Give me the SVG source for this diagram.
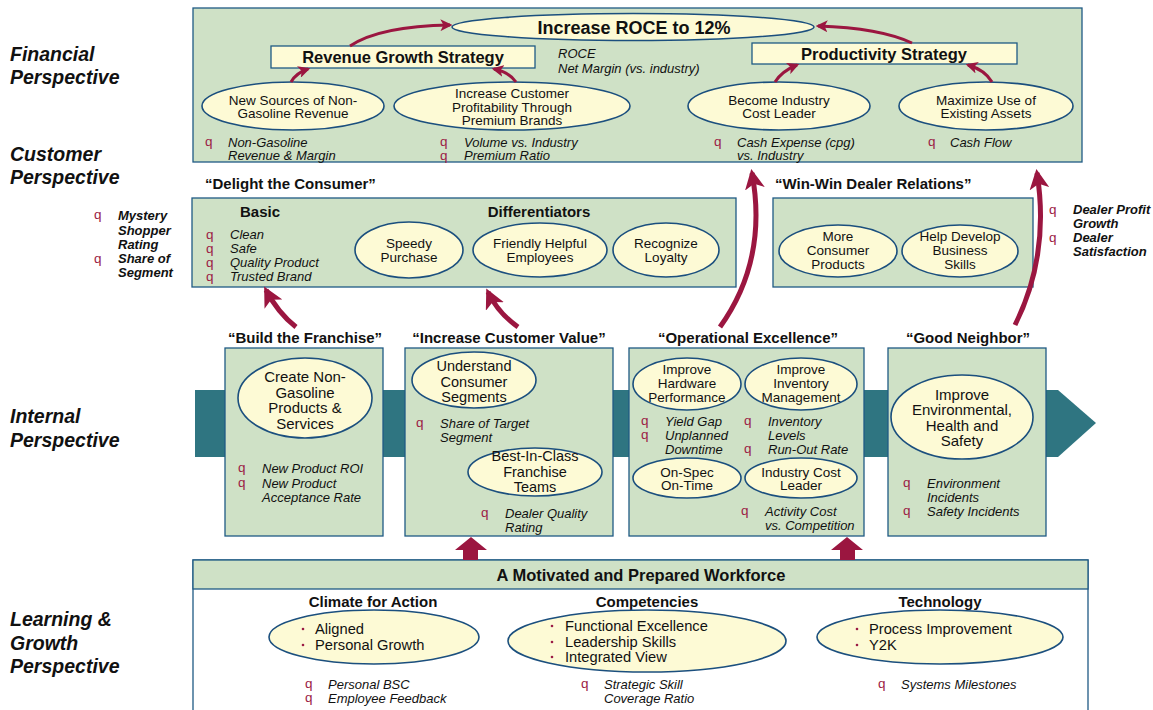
<svg xmlns="http://www.w3.org/2000/svg" width="1153" height="710" viewBox="0 0 1153 710">
<style>
text{font-family:"Liberation Sans",Arial,sans-serif;fill:#111}
.box{fill:#cfe1c6;stroke:#1f5a84;stroke-width:1.3}
.ell{fill:#fdfad5;stroke:#1b4f7e;stroke-width:1.6}
.persp{font-size:19.5px;font-weight:bold;font-style:italic}
.q{fill:#9b1b45;font-size:13.5px}
.m{font-size:13px;font-style:italic}
.mb{font-size:13px;font-style:italic;font-weight:bold}
.et{font-size:13.5px;text-anchor:middle}
.et2{font-size:15px;text-anchor:middle}
.et3{font-size:14.5px;text-anchor:middle}
.hd{font-size:15px;font-weight:bold;text-anchor:middle}
.sh{font-size:15px;font-weight:bold;text-anchor:middle}
.arr{fill:none;stroke:#9b1640;marker-end:url(#ah)}
.blk{fill:#9b1640}
.dot{fill:#9b1b45}
.bt{font-size:14.7px}
</style>
<defs>
<marker id="ah" viewBox="0 0 10 10" refX="8" refY="5" markerWidth="4" markerHeight="4" orient="auto" markerUnits="strokeWidth">
<path d="M0,0 L10,5 L0,10 L2.5,5 z" fill="#9b1640"/>
</marker>
</defs>
<rect width="1153" height="710" fill="#fff"/>

<g id="perspective-labels">
<text class="persp" x="10" y="61">Financial</text>
<text class="persp" x="10" y="84">Perspective</text>
<text class="persp" x="10" y="161">Customer</text>
<text class="persp" x="10" y="184">Perspective</text>
<text class="persp" x="10" y="423">Internal</text>
<text class="persp" x="10" y="447">Perspective</text>
<text class="persp" x="10" y="626">Learning &amp;</text>
<text class="persp" x="10" y="650">Growth</text>
<text class="persp" x="10" y="673">Perspective</text>
</g>

<g id="financial">
<rect class="box" x="193" y="8" width="889" height="154"/>
<g id="roce">
<ellipse class="ell" cx="633" cy="27" rx="181" ry="13.5"/>
<text x="634" y="33.5" style="font-size:18px;font-weight:bold;text-anchor:middle">Increase ROCE to 12%</text>
</g>
<g id="revenue-growth">
<rect x="271" y="46" width="264" height="22" fill="#fefbd6" stroke="#1f5a84" stroke-width="1.3"/>
<text x="403" y="63" style="font-size:16.5px;font-weight:bold;text-anchor:middle">Revenue Growth Strategy</text>
</g>
<g id="productivity">
<rect x="752" y="43" width="265" height="21" fill="#fefbd6" stroke="#1f5a84" stroke-width="1.3"/>
<text x="884" y="59.5" style="font-size:16.5px;font-weight:bold;text-anchor:middle">Productivity Strategy</text>
</g>
<text class="m" x="558" y="58">ROCE</text>
<text class="m" x="558" y="73">Net Margin (vs. industry)</text>
<g id="new-sources">
<ellipse class="ell" cx="293" cy="106" rx="91" ry="24"/>
<text class="et" x="293" y="104.5">New Sources of Non-</text>
<text class="et" x="293" y="118">Gasoline Revenue</text>
</g>
<g id="premium-brands">
<ellipse class="ell" cx="512" cy="106" rx="118" ry="24"/>
<text class="et" x="512" y="97.5">Increase Customer</text>
<text class="et" x="512" y="111.5">Profitability Through</text>
<text class="et" x="512" y="125">Premium Brands</text>
</g>
<g id="cost-leader">
<ellipse class="ell" cx="779" cy="106" rx="91" ry="24"/>
<text class="et" x="779" y="104.5">Become Industry</text>
<text class="et" x="779" y="118">Cost Leader</text>
</g>
<g id="existing-assets">
<ellipse class="ell" cx="986" cy="106" rx="87" ry="24"/>
<text class="et" x="986" y="104.5">Maximize Use of</text>
<text class="et" x="986" y="118">Existing Assets</text>
</g>
<text class="q" x="205" y="146">q</text>
<text class="m" x="228" y="146.5">Non-Gasoline</text>
<text class="m" x="228" y="160">Revenue &amp; Margin</text>
<text class="q" x="440" y="146">q</text>
<text class="q" x="440" y="160">q</text>
<text class="m" x="464" y="146.5">Volume vs. Industry</text>
<text class="m" x="464" y="160">Premium Ratio</text>
<text class="q" x="714" y="146">q</text>
<text class="m" x="737" y="146.5">Cash Expense (cpg)</text>
<text class="m" x="737" y="160">vs. Industry</text>
<text class="q" x="928" y="146">q</text>
<text class="m" x="950" y="146.5">Cash Flow</text>
</g>

<g id="customer-labels">
<text x="205" y="188.5" style="font-size:15px;font-weight:bold">“Delight the Consumer”</text>
<text x="775" y="188.5" style="font-size:15px;font-weight:bold">“Win-Win Dealer Relations”</text>
<text class="q" x="94" y="219">q</text>
<text class="q" x="94" y="263">q</text>
<text class="mb" x="118" y="220">Mystery</text>
<text class="mb" x="118" y="235">Shopper</text>
<text class="mb" x="118" y="249">Rating</text>
<text class="mb" x="118" y="263">Share of</text>
<text class="mb" x="118" y="277">Segment</text>
<text class="q" x="1049" y="214">q</text>
<text class="q" x="1049" y="242">q</text>
<text class="mb" x="1073" y="214">Dealer Profit</text>
<text class="mb" x="1073" y="228">Growth</text>
<text class="mb" x="1073" y="242">Dealer</text>
<text class="mb" x="1073" y="256">Satisfaction</text>
</g>

<g id="consumer">
<rect class="box" x="192" y="198" width="544" height="89"/>
<text x="240" y="216.5" style="font-size:15px;font-weight:bold">Basic</text>
<text class="sh" x="539" y="216.5">Differentiators</text>
<text class="q" x="206" y="239">q</text>
<text class="q" x="206" y="253">q</text>
<text class="q" x="206" y="267">q</text>
<text class="q" x="206" y="281">q</text>
<text class="m" x="230" y="239">Clean</text>
<text class="m" x="230" y="253">Safe</text>
<text class="m" x="230" y="266.5">Quality Product</text>
<text class="m" x="230" y="281">Trusted Brand</text>
<g id="speedy">
<ellipse class="ell" cx="409" cy="250" rx="54" ry="28"/>
<text class="et" x="409" y="247.5">Speedy</text>
<text class="et" x="409" y="261.5">Purchase</text>
</g>
<g id="friendly">
<ellipse class="ell" cx="540" cy="250" rx="67" ry="27"/>
<text class="et" x="540" y="247.5">Friendly Helpful</text>
<text class="et" x="540" y="261.5">Employees</text>
</g>
<g id="loyalty">
<ellipse class="ell" cx="666" cy="250" rx="53" ry="27"/>
<text class="et" x="666" y="247.5">Recognize</text>
<text class="et" x="666" y="261.5">Loyalty</text>
</g>
</g>

<g id="dealer">
<rect class="box" x="773" y="198" width="260" height="89"/>
<g id="more-products">
<ellipse class="ell" cx="838" cy="251" rx="59" ry="26"/>
<text class="et" x="838" y="240.5">More</text>
<text class="et" x="838" y="254.5">Consumer</text>
<text class="et" x="838" y="268.5">Products</text>
</g>
<g id="business-skills">
<ellipse class="ell" cx="960" cy="251" rx="58" ry="26"/>
<text class="et" x="960" y="240.5">Help Develop</text>
<text class="et" x="960" y="254.5">Business</text>
<text class="et" x="960" y="268.5">Skills</text>
</g>
</g>

<g id="internal">
<polygon points="195,390 1058,390 1096,423 1058,457 195,457" fill="#2f7581"/>
<text class="hd" x="305" y="342.5">“Build the Franchise”</text>
<text class="hd" x="509" y="342.5">“Increase Customer Value”</text>
<text class="hd" x="748" y="342.5">“Operational Excellence”</text>
<text class="hd" x="968" y="342.5">“Good Neighbor”</text>
<g id="franchise">
<rect class="box" x="225" y="348" width="158" height="188"/>
<ellipse class="ell" cx="305" cy="398" rx="67" ry="40"/>
<text class="et2" x="305" y="381.5">Create Non-</text>
<text class="et2" x="305" y="397.5">Gasoline</text>
<text class="et2" x="305" y="413">Products &amp;</text>
<text class="et2" x="305" y="428.5">Services</text>
<text class="q" x="238" y="472">q</text>
<text class="q" x="238" y="487">q</text>
<text class="m" x="262" y="472.5">New Product ROI</text>
<text class="m" x="262" y="487.5">New Product</text>
<text class="m" x="262" y="501.5">Acceptance Rate</text>
</g>
<g id="customer-value">
<rect class="box" x="405" y="348" width="208" height="188"/>
<ellipse class="ell" cx="474" cy="380" rx="62" ry="28"/>
<text class="et3" x="474" y="371">Understand</text>
<text class="et3" x="474" y="386.5">Consumer</text>
<text class="et3" x="474" y="402">Segments</text>
<text class="q" x="416" y="427">q</text>
<text class="m" x="440" y="427.5">Share of Target</text>
<text class="m" x="440" y="441.5">Segment</text>
<ellipse class="ell" cx="535" cy="472" rx="67" ry="24"/>
<text class="et3" x="535" y="461">Best-In-Class</text>
<text class="et3" x="535" y="476.5">Franchise</text>
<text class="et3" x="535" y="492">Teams</text>
<text class="q" x="481" y="517">q</text>
<text class="m" x="505" y="517.5">Dealer Quality</text>
<text class="m" x="505" y="531.5">Rating</text>
</g>
<g id="operational">
<rect class="box" x="629" y="348" width="235" height="188"/>
<ellipse class="ell" cx="687" cy="384" rx="54" ry="26"/>
<text class="et" x="687" y="373.5">Improve</text>
<text class="et" x="687" y="387.5">Hardware</text>
<text class="et" x="687" y="401.5">Performance</text>
<ellipse class="ell" cx="801" cy="384" rx="56" ry="26"/>
<text class="et" x="801" y="373.5">Improve</text>
<text class="et" x="801" y="387.5">Inventory</text>
<text class="et" x="801" y="401.5">Management</text>
<text class="q" x="641" y="425">q</text>
<text class="q" x="641" y="439">q</text>
<text class="m" x="665" y="425.5">Yield Gap</text>
<text class="m" x="665" y="439.5">Unplanned</text>
<text class="m" x="665" y="453.5">Downtime</text>
<text class="q" x="744" y="425">q</text>
<text class="q" x="744" y="453">q</text>
<text class="m" x="768" y="425.5">Inventory</text>
<text class="m" x="768" y="439.5">Levels</text>
<text class="m" x="768" y="453.5">Run-Out Rate</text>
<ellipse class="ell" cx="687" cy="478" rx="54" ry="20"/>
<text class="et" x="687" y="476.5">On-Spec</text>
<text class="et" x="687" y="490">On-Time</text>
<ellipse class="ell" cx="801" cy="478" rx="56" ry="20"/>
<text class="et" x="801" y="476.5">Industry Cost</text>
<text class="et" x="801" y="490">Leader</text>
<text class="q" x="741" y="515">q</text>
<text class="m" x="765" y="515.5">Activity Cost</text>
<text class="m" x="765" y="529.5">vs. Competition</text>
</g>
<g id="good-neighbor">
<rect class="box" x="888" y="348" width="158" height="188"/>
<ellipse class="ell" cx="962" cy="417" rx="71" ry="42"/>
<text class="et2" x="962" y="399.5">Improve</text>
<text class="et2" x="962" y="415">Environmental,</text>
<text class="et2" x="962" y="430.5">Health and</text>
<text class="et2" x="962" y="446">Safety</text>
<text class="q" x="903" y="487">q</text>
<text class="q" x="903" y="515">q</text>
<text class="m" x="927" y="487.5">Environment</text>
<text class="m" x="927" y="501.5">Incidents</text>
<text class="m" x="927" y="515.5">Safety Incidents</text>
</g>
</g>

<g id="workforce">
<rect x="193" y="560" width="895" height="152" fill="#fff" stroke="#1f5a84" stroke-width="1.3"/>
<rect class="box" x="193" y="560" width="895" height="29"/>
<text x="641" y="581" style="font-size:16.5px;font-weight:bold;text-anchor:middle">A Motivated and Prepared Workforce</text>
<g id="climate">
<text x="373" y="606.5" style="font-size:15px;font-weight:bold;text-anchor:middle">Climate for Action</text>
<ellipse class="ell" cx="374" cy="637" rx="105" ry="27"/>
<circle class="dot" cx="303" cy="629" r="1.3"/>
<circle class="dot" cx="303" cy="645" r="1.3"/>
<text class="bt" x="315" y="634">Aligned</text>
<text class="bt" x="315" y="650">Personal Growth</text>
<text class="q" x="305" y="688">q</text>
<text class="q" x="305" y="702">q</text>
<text class="m" x="328" y="688.5">Personal BSC</text>
<text class="m" x="328" y="702.5">Employee Feedback</text>
</g>
<g id="competencies">
<text x="647" y="606.5" style="font-size:15px;font-weight:bold;text-anchor:middle">Competencies</text>
<ellipse class="ell" cx="647" cy="641" rx="139" ry="31"/>
<circle class="dot" cx="552" cy="626" r="1.3"/>
<circle class="dot" cx="552" cy="642" r="1.3"/>
<circle class="dot" cx="552" cy="657" r="1.3"/>
<text class="bt" x="565" y="631">Functional Excellence</text>
<text class="bt" x="565" y="647">Leadership Skills</text>
<text class="bt" x="565" y="662">Integrated View</text>
<text class="q" x="581" y="688">q</text>
<text class="m" x="604" y="688.5">Strategic Skill</text>
<text class="m" x="604" y="702.5">Coverage Ratio</text>
</g>
<g id="technology">
<text x="940" y="606.5" style="font-size:15px;font-weight:bold;text-anchor:middle">Technology</text>
<ellipse class="ell" cx="940" cy="637" rx="123" ry="27"/>
<circle class="dot" cx="857" cy="629" r="1.3"/>
<circle class="dot" cx="857" cy="645" r="1.3"/>
<text class="bt" x="869" y="634">Process Improvement</text>
<text class="bt" x="869" y="650">Y2K</text>
<text class="q" x="878" y="688">q</text>
<text class="m" x="901" y="688.5">Systems Milestones</text>
</g>
</g>

<g id="connectors">
<path class="arr" stroke-width="3" d="M350,46 Q380,26 450,25"/>
<path class="arr" stroke-width="3" d="M912,43 Q880,28 818,26"/>
<path class="arr" stroke-width="3" d="M291,82 Q296,73 308,69"/>
<path class="arr" stroke-width="3" d="M516,82 Q509,72 494,69"/>
<path class="arr" stroke-width="3" d="M775,82 Q782,71 797,65"/>
<path class="arr" stroke-width="3" d="M992,82 Q985,70 968,65"/>
<path class="arr" stroke-width="5" d="M296,327 Q278,313 266,290"/>
<path class="arr" stroke-width="5" d="M518,327 Q498,313 488,292"/>
<path class="arr" stroke-width="5" d="M720,327 Q768,260 752,173"/>
<path class="arr" stroke-width="5" d="M1015,325 Q1050,255 1037,173"/>
<polygon class="blk" points="463,560 463,550 455,550 471,537 487,550 478,550 478,560"/>
<polygon class="blk" points="840,560 840,550 831,550 847,537 863,550 855,550 855,560"/>
</g>
</svg>
